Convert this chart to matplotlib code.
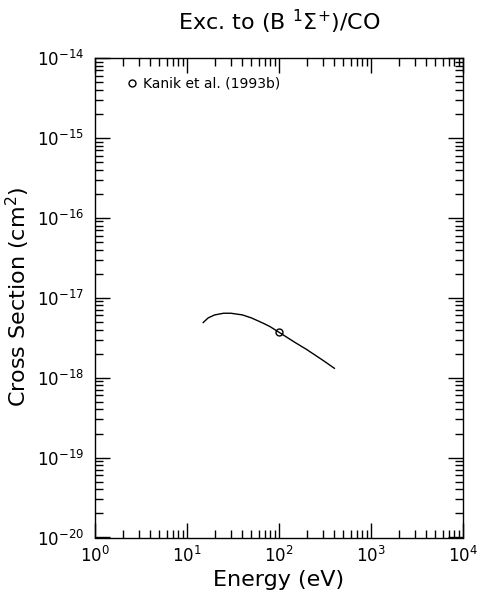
import matplotlib
matplotlib.use("Agg")
import matplotlib.pyplot as plt
from matplotlib.ticker import LogLocator, FixedLocator, NullFormatter

# Data
energy_curve = [15, 17, 20, 25, 30, 40, 50, 60, 70, 80, 100, 150, 200, 300, 400]
sigma_curve = [4.9e-18, 5.6e-18, 6.1e-18, 6.4e-18, 6.4e-18, 6.1e-18, 5.6e-18, 5.1e-18,
               4.7e-18, 4.35e-18, 3.7e-18, 2.75e-18, 2.25e-18, 1.65e-18, 1.31e-18]
kanik_energy = [100]
kanik_sigma = [3.7e-18]

x_ticks = [1e0, 1e1, 1e2, 1e3, 1e4]
x_labels = [r"$10^{0}$", r"$10^{1}$", r"$10^{2}$", r"$10^{3}$", r"$10^{4}$"]
y_ticks = [1e-20, 1e-19, 1e-18, 1e-17, 1e-16, 1e-15, 1e-14]
y_labels = [r"$10^{-20}$", r"$10^{-19}$", r"$10^{-18}$", r"$10^{-17}$",
            r"$10^{-16}$", r"$10^{-15}$", r"$10^{-14}$"]

plt.rcParams['font.family'] = ['DejaVu Sans']
plt.rcParams['mathtext.fontset'] = 'dejavusans'

fig = plt.figure(figsize=(4.81, 6.06), dpi=100)
W, H = 481, 606
left, right, top, bottom = 95, 463, 58, 537.5
ax = fig.add_axes([left / W, 1 - bottom / H, (right - left) / W, (bottom - top) / H])

ax.plot(energy_curve, sigma_curve, color='black', lw=1.0)
ax.plot(kanik_energy, kanik_sigma, linestyle='none', marker='o', markersize=5,
        markerfacecolor='none', markeredgecolor='black', markeredgewidth=1.0)

ax.set_xscale('log')
ax.set_yscale('log')
ax.set_xlim(1, 1e4)
ax.set_ylim(1e-20, 1e-14)

ax.xaxis.set_major_locator(FixedLocator(x_ticks))
ax.set_xticklabels(x_labels)
ax.yaxis.set_major_locator(FixedLocator(y_ticks))
ax.set_yticklabels(y_labels)
ax.xaxis.set_minor_locator(LogLocator(base=10, subs=range(2, 10), numticks=20))
ax.yaxis.set_minor_locator(LogLocator(base=10, subs=range(2, 10), numticks=20))
ax.xaxis.set_minor_formatter(NullFormatter())
ax.yaxis.set_minor_formatter(NullFormatter())

ax.tick_params(which='both', direction='in', top=True, right=True, width=1.0, colors='black')
ax.tick_params(which='major', length=11, labelsize=12)
ax.tick_params(which='minor', length=6)
ax.tick_params(axis='x', which='major', pad=6)
ax.tick_params(axis='y', which='major', pad=8)
for s in ax.spines.values():
    s.set_linewidth(1.0)

ax.set_xlabel('Energy (eV)', fontsize=16)
ax.xaxis.set_label_coords(0.5, -(580 - bottom) / (bottom - top), transform=ax.transAxes)
ax.xaxis.label.set_va('center')
ax.set_ylabel(r'Cross Section (cm$^{2}$)', fontsize=16)
ax.yaxis.set_label_coords(-(left - 18) / (right - left), (bottom - 297) / (bottom - top),
                          transform=ax.transAxes)
ax.yaxis.label.set_va('center')
fig.text((left + right) / 2 / W, 1 - 22 / H, r'Exc. to (B $^{1}\Sigma^{+}$)/CO',
         fontsize=16, ha='center', va='center')

# Legend
ax.plot([2.5], [4.8e-15], linestyle='none', marker='o', markersize=5,
        markerfacecolor='none', markeredgecolor='black', markeredgewidth=1.0)
ax.text(3.3, 4.8e-15, 'Kanik et al. (1993b)', fontsize=10, va='center', ha='left')

fig.savefig('out.png', dpi=100)
